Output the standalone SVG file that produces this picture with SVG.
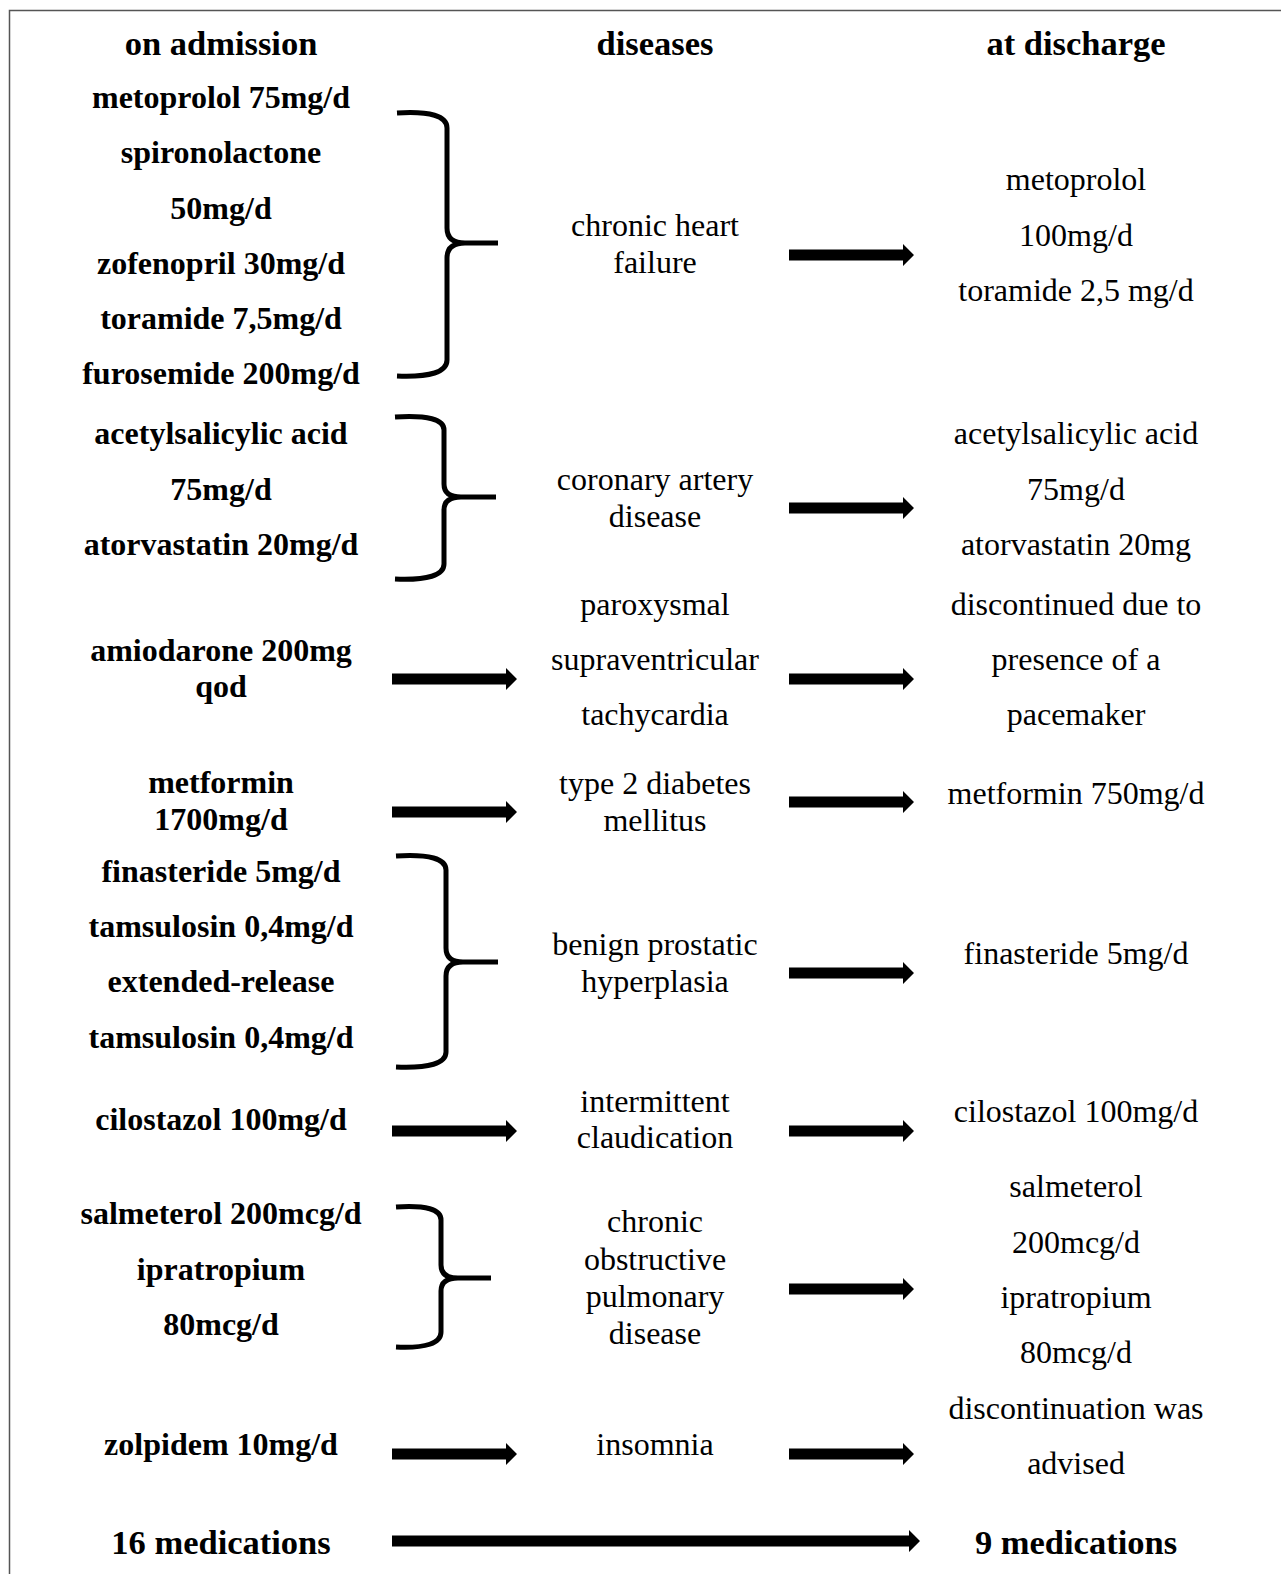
<svg xmlns="http://www.w3.org/2000/svg" width="1281" height="1574" viewBox="0 0 1281 1574">
<style>
text{font-family:"Liberation Serif","Times New Roman",serif;font-size:32px;fill:#000;text-anchor:middle}
.b{font-weight:bold}
.h{font-size:34.5px}
.brace{fill:none;stroke:#000;stroke-width:5;stroke-linecap:butt;stroke-linejoin:round}
.arr{fill:#000}
</style>
<rect width="1281" height="1574" fill="#fff"/>
<path d="M9.5,1574 V10.5 H1281" fill="none" stroke="#555" stroke-width="1.5"/>

<g id="headers">
<text class="b h" x="221" y="55">on admission</text>
<text class="b h" x="655" y="55">diseases</text>
<text class="b h" x="1076" y="55">at discharge</text>
</g>

<g id="adm-chf">
<text class="b" x="221" y="108">metoprolol 75mg/d</text>
<text class="b" x="221" y="163">spironolactone</text>
<text class="b" x="221" y="218.5">50mg/d</text>
<text class="b" x="221" y="273.5">zofenopril 30mg/d</text>
<text class="b" x="221" y="328.5">toramide 7,5mg/d</text>
<text class="b" x="221" y="383.5">furosemide 200mg/d</text>
</g>
<g id="dis-chf">
<text x="655" y="235.5">chronic heart</text>
<text x="655" y="272.5">failure</text>
</g>
<g id="dis-chf-out">
<text x="1076" y="190">metoprolol</text>
<text x="1076" y="245.5">100mg/d</text>
<text x="1076" y="300.5">toramide 2,5 mg/d</text>
</g>

<g id="adm-cad">
<text class="b" x="221" y="444">acetylsalicylic acid</text>
<text class="b" x="221" y="499.5">75mg/d</text>
<text class="b" x="221" y="554.5">atorvastatin 20mg/d</text>
</g>
<g id="dis-cad">
<text x="655" y="489.5">coronary artery</text>
<text x="655" y="526.5">disease</text>
</g>
<g id="out-cad">
<text x="1076" y="444">acetylsalicylic acid</text>
<text x="1076" y="499.5">75mg/d</text>
<text x="1076" y="554.5">atorvastatin 20mg</text>
</g>

<g id="adm-psvt">
<text class="b" x="221" y="661">amiodarone 200mg</text>
<text class="b" x="221" y="697">qod</text>
</g>
<g id="dis-psvt">
<text x="655" y="615">paroxysmal</text>
<text x="655" y="670">supraventricular</text>
<text x="655" y="725">tachycardia</text>
</g>
<g id="out-psvt">
<text x="1076" y="615">discontinued due to</text>
<text x="1076" y="670">presence of a</text>
<text x="1076" y="725">pacemaker</text>
</g>

<g id="adm-dm">
<text class="b" x="221" y="792.5">metformin</text>
<text class="b" x="221" y="830">1700mg/d</text>
</g>
<g id="dis-dm">
<text x="655" y="793.5">type 2 diabetes</text>
<text x="655" y="830.5">mellitus</text>
</g>
<g id="out-dm">
<text x="1076" y="804">metformin 750mg/d</text>
</g>

<g id="adm-bph">
<text class="b" x="221" y="882">finasteride 5mg/d</text>
<text class="b" x="221" y="937">tamsulosin 0,4mg/d</text>
<text class="b" x="221" y="992">extended-release</text>
<text class="b" x="221" y="1047.5">tamsulosin 0,4mg/d</text>
</g>
<g id="dis-bph">
<text x="655" y="955">benign prostatic</text>
<text x="655" y="991.5">hyperplasia</text>
</g>
<g id="out-bph">
<text x="1076" y="964">finasteride 5mg/d</text>
</g>

<g id="adm-ic">
<text class="b" x="221" y="1130">cilostazol 100mg/d</text>
</g>
<g id="dis-ic">
<text x="655" y="1112">intermittent</text>
<text x="655" y="1148">claudication</text>
</g>
<g id="out-ic">
<text x="1076" y="1122">cilostazol 100mg/d</text>
</g>

<g id="adm-copd">
<text class="b" x="221" y="1224">salmeterol 200mcg/d</text>
<text class="b" x="221" y="1279.5">ipratropium</text>
<text class="b" x="221" y="1334.5">80mcg/d</text>
</g>
<g id="dis-copd">
<text x="655" y="1232">chronic</text>
<text x="655" y="1269.5">obstructive</text>
<text x="655" y="1306.5">pulmonary</text>
<text x="655" y="1343.5">disease</text>
</g>
<g id="out-copd">
<text x="1076" y="1197">salmeterol</text>
<text x="1076" y="1252.5">200mcg/d</text>
<text x="1076" y="1307.5">ipratropium</text>
<text x="1076" y="1362.5">80mcg/d</text>
</g>

<g id="adm-ins">
<text class="b" x="221" y="1455">zolpidem 10mg/d</text>
</g>
<g id="dis-ins">
<text x="655" y="1455">insomnia</text>
</g>
<g id="out-ins">
<text x="1076" y="1419">discontinuation was</text>
<text x="1076" y="1474">advised</text>
</g>

<g id="total-adm">
<text class="b h" x="221" y="1554">16 medications</text>
</g>
<g id="total-out">
<text class="b h" x="1076" y="1554">9 medications</text>
</g>

<g id="connectors">
<path class="brace" d="M397,113 Q447,110 447,128 L447,228 Q447,243 465,243 L498,243 M465,243 Q447,243 447,258 L447,360 Q447,378 397,376"/>
<path class="brace" d="M395,417 Q444,414 444,430 L444,484 Q444,497 461,497 L496,497 M461,497 Q444,497 444,510 L444,564 Q444,581 395,579"/>
<path class="brace" d="M396,856 Q446,853 446,870 L446,948 Q446,962 463,962 L498,962 M463,962 Q446,962 446,976 L446,1052 Q446,1069 396,1067"/>
<path class="brace" d="M396,1207 Q441,1204 441,1220 L441,1265 Q441,1278 458,1278 L491,1278 M458,1278 Q441,1278 441,1291 L441,1332 Q441,1349 396,1347"/>

<path class="arr" d="M789,249.5 H903 V244 L914,255 L903,266 V260.5 H789 Z"/>
<path class="arr" d="M789,502.5 H903 V497 L914,508 L903,519 V513.5 H789 Z"/>
<path class="arr" d="M789,673.5 H903 V668 L914,679 L903,690 V684.5 H789 Z"/>
<path class="arr" d="M789,796.5 H903 V791 L914,802 L903,813 V807.5 H789 Z"/>
<path class="arr" d="M789,967.5 H903 V962 L914,973 L903,984 V978.5 H789 Z"/>
<path class="arr" d="M789,1125.5 H903 V1120 L914,1131 L903,1142 V1136.5 H789 Z"/>
<path class="arr" d="M789,1283.5 H903 V1278 L914,1289 L903,1300 V1294.5 H789 Z"/>
<path class="arr" d="M789,1448.5 H903 V1443 L914,1454 L903,1465 V1459.5 H789 Z"/>

<path class="arr" d="M392,673.5 H506 V668 L517,679 L506,690 V684.5 H392 Z"/>
<path class="arr" d="M392,806.5 H506 V801 L517,812 L506,823 V817.5 H392 Z"/>
<path class="arr" d="M392,1125.5 H506 V1120 L517,1131 L506,1142 V1136.5 H392 Z"/>
<path class="arr" d="M392,1448.5 H506 V1443 L517,1454 L506,1465 V1459.5 H392 Z"/>

<path class="arr" d="M392,1535.5 H909 V1530 L920,1541 L909,1552 V1546.5 H392 Z"/>
</g>
</svg>
